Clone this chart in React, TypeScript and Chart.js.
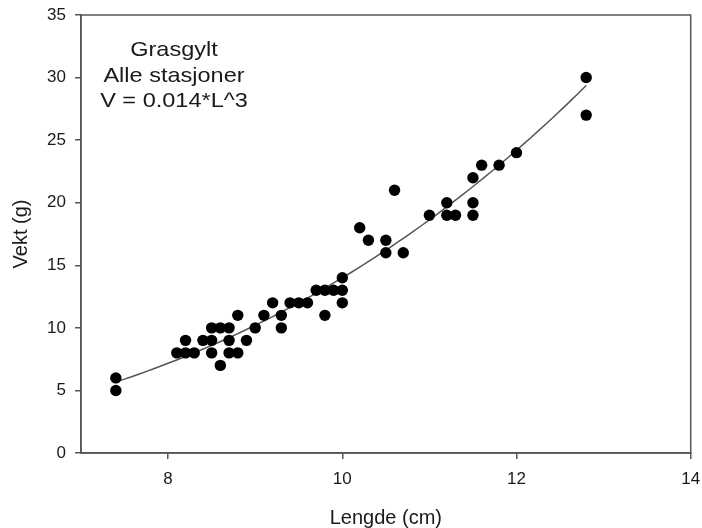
import React, { useEffect, useRef } from "react";
import { Chart, registerables } from "chart.js";

Chart.register(...registerables);

const LENGTH = [7.4, 7.4, 8.1, 8.2, 8.2, 8.3, 8.4, 8.5, 8.5, 8.5, 8.6, 8.6, 8.7, 8.7, 8.7, 8.8, 8.8, 8.9, 9.0, 9.1, 9.2, 9.3, 9.3, 9.4, 9.5, 9.6, 9.7, 9.8, 9.8, 9.9, 10.0, 10.0, 10.0, 10.2, 10.3, 10.5, 10.5, 10.6, 10.7, 11.0, 11.2, 11.2, 11.3, 11.5, 11.5, 11.5, 11.6, 11.8, 12.0, 12.8, 12.8];
const WEIGHT = [6, 5, 8, 8, 9, 8, 9, 9, 8, 10, 10, 7, 10, 9, 8, 8, 11, 9, 10, 11, 12, 11, 10, 12, 12, 12, 13, 13, 11, 13, 13, 14, 12, 18, 17, 17, 16, 21, 16, 19, 19, 20, 19, 19, 20, 22, 23, 23, 24, 30, 27];

const FIT_COEF = 0.014;
const FIT_RANGE = [7.4, 12.8];
const X_TICKS = [8, 10, 12, 14];
const Y_TICKS = [0, 5, 10, 15, 20, 25, 30, 35];
const ANNOTATION = ["Grasgylt", "Alle stasjoner", "V = 0.014*L^3"];

const FONT = "'Liberation Sans', Arial, sans-serif";
const AXIS_COLOR = "#555555";
const TEXT_COLOR = "#1a1a1a";

const boxPlugin = {
  id: "boxAndNote",
  afterDraw(chart: any) {
    const { ctx, chartArea } = chart;
    ctx.save();
    ctx.strokeStyle = AXIS_COLOR;
    ctx.lineWidth = 1.5;
    ctx.strokeRect(chartArea.left, chartArea.top, chartArea.right - chartArea.left, chartArea.bottom - chartArea.top);
    ctx.fillStyle = TEXT_COLOR;
    ctx.font = `21px ${FONT}`;
    ctx.textAlign = "center";
    ctx.textBaseline = "middle";
    const cx = chartArea.left + 93;
    const offsets = [35, 61, 86];
    ANNOTATION.forEach((t, i) => {
      ctx.save();
      ctx.translate(cx, chartArea.top + offsets[i]);
      ctx.scale(1.12, 1);
      ctx.fillText(t, 0, 0);
      ctx.restore();
    });
    ctx.restore();
  },
};

export default function App() {
  const ref = useRef<HTMLCanvasElement | null>(null);

  useEffect(() => {
    if (!ref.current) return;
    const points = LENGTH.map((l, i) => ({ x: l, y: WEIGHT[i] }));
    const curve: { x: number; y: number }[] = [];
    const steps = 60;
    for (let i = 0; i <= steps; i++) {
      const l = FIT_RANGE[0] + ((FIT_RANGE[1] - FIT_RANGE[0]) * i) / steps;
      curve.push({ x: l, y: FIT_COEF * l * l * l });
    }
    const chart = new Chart(ref.current, {
      type: "scatter",
      data: {
        datasets: [
          {
            label: "Målinger",
            data: points,
            backgroundColor: "#000000",
            borderWidth: 0,
            pointRadius: 5.7,
            order: 0,
          },
          {
            type: "line",
            label: "Tilpasning",
            data: curve,
            borderColor: "#555555",
            borderWidth: 1.5,
            pointRadius: 0,
            fill: false,
            tension: 0,
            order: 1,
          } as any,
        ],
      },
      options: {
        responsive: false,
        animation: false,
        layout: { padding: { left: 0, top: 15, right: 11.3, bottom: 0 } },
        plugins: { legend: { display: false }, tooltip: { enabled: false } },
        scales: {
          x: {
            type: "linear",
            min: 7,
            max: 14,
            afterBuildTicks: (s: any) => {
              s.ticks = X_TICKS.map((v) => ({ value: v }));
            },
            afterFit: (s: any) => {
              s.height = 75;
              s.paddingLeft = 0;
              s.paddingRight = 0;
            },
            grid: { drawOnChartArea: false, drawTicks: true, tickLength: 6, color: AXIS_COLOR, lineWidth: 1.5 },
            border: { display: true, color: AXIS_COLOR, width: 1.5 },
            ticks: { color: TEXT_COLOR, font: { family: FONT, size: 17 }, padding: 10, maxRotation: 0 },
            title: {
              display: true,
              text: "Lengde (cm)",
              color: TEXT_COLOR,
              font: { family: FONT, size: 20, lineHeight: 1 },
              padding: { top: 0, bottom: 0 },
            },
          },
          y: {
            type: "linear",
            min: 0,
            max: 35,
            afterBuildTicks: (s: any) => {
              s.ticks = Y_TICKS.map((v) => ({ value: v }));
            },
            afterFit: (s: any) => {
              s.width = 81;
              s.paddingTop = 0;
              s.paddingBottom = 0;
            },
            grid: { drawOnChartArea: false, drawTicks: true, tickLength: 6, color: AXIS_COLOR, lineWidth: 1.5 },
            border: { display: true, color: AXIS_COLOR, width: 1.5 },
            ticks: { color: TEXT_COLOR, font: { family: FONT, size: 17 }, padding: 9 },
            title: {
              display: true,
              text: "Vekt (g)",
              color: TEXT_COLOR,
              font: { family: FONT, size: 20, lineHeight: 1 },
              padding: { top: 11.5, bottom: 0 },
            },
          },
        },
      },
      plugins: [boxPlugin],
    });
    return () => chart.destroy();
  }, []);

  return (
    <div style={{ position: "absolute", left: 0, top: 0, width: 702, height: 528, background: "#fff" }}>
      <canvas ref={ref} width={702} height={528} style={{ display: "block" }} />
    </div>
  );
}
